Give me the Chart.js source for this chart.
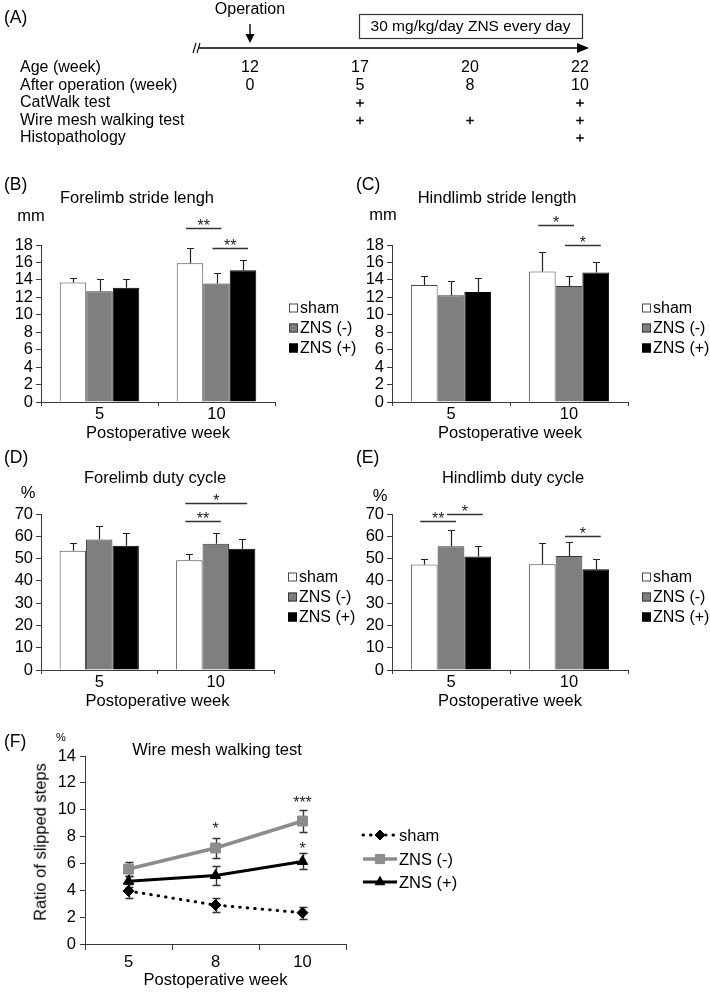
<!DOCTYPE html>
<html><head><meta charset="utf-8">
<script src="https://cdn.jsdelivr.net/npm/chart.js@4.4.1/dist/chart.umd.min.js"></script>
<style>
html,body{margin:0;padding:0;background:#fff;}
body{width:710px;height:992px;position:relative;overflow:hidden;font-family:"Liberation Sans",Arial,sans-serif;color:#000;}
canvas{position:absolute;}
.c{position:absolute;white-space:nowrap;transform:translate(-50%,-50%);font-size:16.5px;line-height:1;}
.p{position:absolute;white-space:nowrap;transform:translateY(-50%);font-size:17.5px;line-height:1;}
.r{position:absolute;white-space:nowrap;transform:translate(-50%,-50%) rotate(-90deg);font-size:16.5px;line-height:1;}
</style></head><body>
<canvas id="cA" width="710" height="160" style="left:0;top:0"></canvas>
<canvas id="cB" width="362" height="277" style="left:0;top:170px"></canvas>
<canvas id="cC" width="360" height="277" style="left:350px;top:170px"></canvas>
<canvas id="cD" width="362" height="275" style="left:0;top:440px"></canvas>
<canvas id="cE" width="360" height="275" style="left:350px;top:440px"></canvas>
<canvas id="cF" width="480" height="267" style="left:0;top:725px"></canvas>

<div class="p" style="left:4px;top:18px">(A)</div>
<div class="p" style="left:4px;top:185px">(B)</div>
<div class="p" style="left:356px;top:185px">(C)</div>
<div class="p" style="left:4px;top:458px">(D)</div>
<div class="p" style="left:356px;top:458px">(E)</div>
<div class="p" style="left:4px;top:742px">(F)</div>

<div class="c" style="left:137px;top:197px">Forelimb stride lengh</div>
<div class="c" style="left:497px;top:197px">Hindlimb stride length</div>
<div class="c" style="left:155px;top:477px">Forelimb duty cycle</div>
<div class="c" style="left:513px;top:477px">Hindlimb duty cycle</div>
<div class="c" style="left:217px;top:749px">Wire mesh walking test</div>

<div class="c" style="left:31px;top:215px">mm</div>
<div class="c" style="left:383px;top:214px">mm</div>
<div class="c" style="left:28px;top:492px">%</div>
<div class="c" style="left:380px;top:495px">%</div>
<div class="c" style="left:61px;top:737px;font-size:11px">%</div>
<div class="r" style="left:40px;top:842px">Ratio of slipped steps</div>

<script>
// ---------------- DATA ----------------
const rowLabels = ['Age (week)', 'After operation (week)', 'CatWalk test', 'Wire mesh walking test', 'Histopathology'];
const ageWeeks = ['12', '17', '20', '22'];
const postOpWeeks = ['0', '5', '8', '10'];
const catWalkAt = ['17', '22'];
const wireMeshAt = ['17', '20', '22'];
const histologyAt = ['22'];
const operationAt = '12';
const treatmentFrom = '17';
const treatmentTo = '22';
const operationLabel = 'Operation';
const treatmentLabel = '30 mg/kg/day ZNS every day';

const seriesNames = ['sham', 'ZNS (-)', 'ZNS (+)'];
const barWeeks = ['5', '10'];
const xTitle = 'Postoperative week';

// (B) Forelimb stride length (mm)
const foreStrideSham = [13.7, 15.9];
const foreStrideShamErr = [0.5, 1.7];
const foreStrideZneg = [12.7, 13.6];
const foreStrideZnegErr = [1.4, 1.2];
const foreStrideZpos = [13.1, 15.1];
const foreStrideZposErr = [1.0, 1.2];
const foreStrideSig = [[1, 0, 1, 20.0, '**'], [1, 1, 2, 17.7, '**']];

// (C) Hindlimb stride length (mm)
const hindStrideSham = [13.4, 14.95];
const hindStrideShamErr = [1.1, 2.25];
const hindStrideZneg = [12.25, 13.3];
const hindStrideZnegErr = [1.65, 1.1];
const hindStrideZpos = [12.6, 14.85];
const hindStrideZposErr = [1.6, 1.25];
const hindStrideSig = [[1, 0, 1, 20.3, '*'], [1, 1, 2, 17.95, '*']];

// (D) Forelimb duty cycle (%)
const foreDutySham = [53.5, 49.3];
const foreDutyShamErr = [3.6, 2.8];
const foreDutyZneg = [58.6, 56.7];
const foreDutyZnegErr = [6.0, 4.8];
const foreDutyZpos = [55.8, 54.4];
const foreDutyZposErr = [5.8, 4.6];
const foreDutySig = [[1, 0, 2, 75.1, '*'], [1, 0, 1, 66.9, '**']];

// (E) Hindlimb duty cycle (%)
const hindDutySham = [47.3, 47.5];
const hindDutyShamErr = [2.4, 9.7];
const hindDutyZneg = [55.5, 51.2];
const hindDutyZnegErr = [7.5, 6.4];
const hindDutyZpos = [50.9, 45.2];
const hindDutyZposErr = [4.9, 4.7];
const hindDutySig = [[0, 0, 1, 66.9, '**'], [0, 1, 2, 70.2, '*'], [1, 1, 2, 60.3, '*']];

// (F) Wire mesh walking test (% slipped steps)
const wireWeeks = ['5', '8', '10'];
const wireSham = [3.95, 2.9, 2.33];
const wireShamErr = [0.5, 0.5, 0.45];
const wireZneg = [5.58, 7.15, 9.16];
const wireZnegErr = [0.5, 0.77, 0.8];
const wireZpos = [4.68, 5.1, 6.15];
const wireZposErr = [0.4, 0.7, 0.6];
const wireSigCats = [1, 2, 2];
const wireSigValues = [8.9, 10.8, 7.4];
const wireSigLabels = ['*', '***', '*'];

// ---------------- STYLE ----------------
const FONT = '"Liberation Sans", Arial, sans-serif';
Chart.defaults.font.family = FONT;
Chart.defaults.font.size = 16.5;
Chart.defaults.color = '#000';
Chart.defaults.animation = false;
const AXIS = '#3a3a3a';
const barFill = ['#ffffff', '#7f7f7f', '#000000'];
const barEdge = ['#4a4a4a', '#3a3a3a', '#000000'];

// ---------------- (A) timeline ----------------
(function () {
  const cv = document.getElementById('cA');
  const crossPts = [];
  catWalkAt.forEach(w => crossPts.push({x: w, y: rowLabels[2]}));
  wireMeshAt.forEach(w => crossPts.push({x: w, y: rowLabels[3]}));
  histologyAt.forEach(w => crossPts.push({x: w, y: rowLabels[4]}));
  const deco = {
    id: 'timelineDeco',
    afterDraw(chart) {
      const ctx = chart.ctx, xs = chart.scales.x, ys = chart.scales.y;
      ctx.save();
      ctx.fillStyle = '#000'; ctx.strokeStyle = '#000';
      ctx.font = '16px ' + FONT;
      ctx.textBaseline = 'middle';
      ctx.textAlign = 'left';
      rowLabels.forEach((r, i) => ctx.fillText(r, 20, ys.getPixelForValue(i)));
      ctx.textAlign = 'center';
      ageWeeks.forEach((w, i) => ctx.fillText(w, xs.getPixelForValue(i), ys.getPixelForValue(0)));
      postOpWeeks.forEach((w, i) => ctx.fillText(w, xs.getPixelForValue(i), ys.getPixelForValue(1)));
      // time axis
      const ty = 48;
      const xEnd = xs.getPixelForValue(ageWeeks.length - 1);
      ctx.lineWidth = 1.6;
      ctx.beginPath(); ctx.moveTo(199, ty); ctx.lineTo(xEnd + 2, ty); ctx.stroke();
      ctx.beginPath(); ctx.moveTo(xEnd + 9, ty); ctx.lineTo(xEnd - 3, ty - 5); ctx.lineTo(xEnd - 3, ty + 5); ctx.closePath(); ctx.fill();
      ctx.lineWidth = 1.1;
      ctx.beginPath(); ctx.moveTo(193, ty + 5); ctx.lineTo(196, ty - 5); ctx.moveTo(197, ty + 5); ctx.lineTo(200, ty - 5); ctx.stroke();
      // operation arrow
      const ox = xs.getPixelForValue(ageWeeks.indexOf(operationAt));
      ctx.fillText(operationLabel, ox, 10);
      ctx.lineWidth = 1.4;
      ctx.beginPath(); ctx.moveTo(ox, 24); ctx.lineTo(ox, 36); ctx.stroke();
      ctx.beginPath(); ctx.moveTo(ox, 43); ctx.lineTo(ox - 4.5, 34); ctx.lineTo(ox + 4.5, 34); ctx.closePath(); ctx.fill();
      // treatment box
      const bx0 = xs.getPixelForValue(ageWeeks.indexOf(treatmentFrom)) - 1;
      const bx1 = xs.getPixelForValue(ageWeeks.indexOf(treatmentTo)) + 2;
      ctx.strokeStyle = '#333'; ctx.lineWidth = 1.2;
      ctx.strokeRect(bx0 + 0.5, 14.5, bx1 - bx0, 24);
      ctx.font = '15.5px ' + FONT;
      ctx.fillText(treatmentLabel, (bx0 + bx1) / 2, 27);
      ctx.restore();
    }
  };
  new Chart(cv, {
    type: 'scatter',
    data: {datasets: [{data: crossPts, pointStyle: 'cross', pointRadius: 3.8, pointBorderWidth: 1.4, borderColor: '#000', backgroundColor: '#000'}]},
    options: {
      responsive: false,
      layout: {padding: {left: 250, right: 130, top: 68, bottom: 22}},
      plugins: {legend: {display: false}, tooltip: {enabled: false}},
      scales: {
        x: {type: 'category', labels: ageWeeks, offset: false, display: false},
        y: {type: 'category', labels: rowLabels, offset: false, display: false}
      }
    },
    plugins: [deco]
  });
})();

// ---------------- bar panels ----------------
function barPanel(id, area, vals, errs, yMax, yStep, sig) {
  const cv = document.getElementById(id);
  const W = cv.width, H = cv.height;
  const deco = {
    id: 'deco',
    afterDatasetsDraw(chart) {
      const ctx = chart.ctx, ys = chart.scales.y, a = chart.chartArea;
      ctx.save();
      // error bars (upper)
      ctx.strokeStyle = '#222'; ctx.lineWidth = 1.2;
      chart.data.datasets.forEach((ds, i) => {
        chart.getDatasetMeta(i).data.forEach((el, j) => {
          const x = Math.round(el.x) + 0.5;
          const y0 = ys.getPixelForValue(ds.data[j]);
          const y1 = Math.round(ys.getPixelForValue(ds.data[j] + errs[i][j])) + 0.5;
          ctx.beginPath();
          ctx.moveTo(x, y0); ctx.lineTo(x, y1);
          ctx.moveTo(x - 3.5, y1); ctx.lineTo(x + 3.5, y1);
          ctx.stroke();
        });
      });
      // significance brackets
      ctx.strokeStyle = '#333'; ctx.lineWidth = 1.3; ctx.fillStyle = '#222';
      ctx.font = '16px ' + FONT; ctx.textAlign = 'center'; ctx.textBaseline = 'alphabetic';
      sig.forEach(([cat, from, to, v, label]) => {
        const xa = chart.getDatasetMeta(from).data[cat].x - 4;
        const xb = chart.getDatasetMeta(to).data[cat].x + 5;
        const yy = Math.round(ys.getPixelForValue(v)) + 0.5;
        ctx.beginPath(); ctx.moveTo(xa, yy); ctx.lineTo(xb, yy); ctx.stroke();
        ctx.fillText(label, (xa + xb) / 2, yy + 2.5);
      });
      // legend
      ctx.textAlign = 'left'; ctx.textBaseline = 'middle'; ctx.font = '16px ' + FONT;
      chart.data.datasets.forEach((ds, i) => {
        const lx = a.right + 14, cy = a.top + 63 + i * 20;
        ctx.fillStyle = ds.backgroundColor; ctx.fillRect(lx, cy - 4.5, 9, 9);
        ctx.strokeStyle = ds.borderColor; ctx.lineWidth = 1; ctx.strokeRect(lx + 0.5, cy - 4, 8, 8);
        ctx.fillStyle = '#000'; ctx.fillText(ds.label, lx + 11, cy + 1);
      });
      ctx.restore();
    }
  };
  new Chart(cv, {
    type: 'bar',
    data: {
      labels: barWeeks,
      datasets: seriesNames.map((n, i) => ({
        label: n, data: vals[i], backgroundColor: barFill[i], borderColor: barEdge[i], borderWidth: 1,
        categoryPercentage: 0.68, barPercentage: 1.0
      }))
    },
    options: {
      responsive: false,
      layout: {padding: {left: 0, top: area.top, right: W - area.right, bottom: 0}},
      plugins: {legend: {display: false}, tooltip: {enabled: false}},
      scales: {
        x: {
          offset: true,
          grid: {offset: true, drawOnChartArea: false, drawTicks: true, tickLength: 4, color: AXIS},
          border: {color: AXIS, width: 1},
          ticks: {padding: 0, color: '#000', font: {size: 16.5, lineHeight: 1}},
          title: {display: true, text: xTitle, color: '#000', font: {size: 16.5}, padding: {top: 0, bottom: 4}},
          afterFit: s => { s.height = H - area.bottom; }
        },
        y: {
          min: 0, max: yMax,
          ticks: {stepSize: yStep, autoSkip: false, padding: 3, color: '#000', font: {size: 16.5, lineHeight: 1}},
          grid: {drawOnChartArea: false, drawTicks: true, tickLength: 5, color: AXIS},
          border: {color: AXIS, width: 1},
          afterFit: s => { s.width = area.left; }
        }
      }
    },
    plugins: [deco]
  });
}

barPanel('cB', {left: 41, right: 275, top: 75, bottom: 232},
  [foreStrideSham, foreStrideZneg, foreStrideZpos], [foreStrideShamErr, foreStrideZnegErr, foreStrideZposErr], 18, 2, foreStrideSig);
barPanel('cC', {left: 42, right: 278, top: 75, bottom: 232},
  [hindStrideSham, hindStrideZneg, hindStrideZpos], [hindStrideShamErr, hindStrideZnegErr, hindStrideZposErr], 18, 2, hindStrideSig);
barPanel('cD', {left: 41, right: 274, top: 74, bottom: 230},
  [foreDutySham, foreDutyZneg, foreDutyZpos], [foreDutyShamErr, foreDutyZnegErr, foreDutyZposErr], 70, 10, foreDutySig);
barPanel('cE', {left: 42, right: 278, top: 74, bottom: 230},
  [hindDutySham, hindDutyZneg, hindDutyZpos], [hindDutyShamErr, hindDutyZnegErr, hindDutyZposErr], 70, 10, hindDutySig);

// ---------------- (F) line panel ----------------
(function () {
  const cv = document.getElementById('cF');
  const W = cv.width, H = cv.height;
  const area = {left: 85, right: 346, top: 31, bottom: 219};
  const errs = [wireShamErr, wireZnegErr, wireZposErr];
  const deco = {
    id: 'decoF',
    beforeDatasetsDraw(chart) {
      const ctx = chart.ctx, ys = chart.scales.y;
      ctx.save(); ctx.strokeStyle = '#333'; ctx.lineWidth = 1.4;
      chart.data.datasets.forEach((ds, i) => {
        chart.getDatasetMeta(i).data.forEach((el, j) => {
          const x = Math.round(el.x) + 0.5;
          const yt = Math.round(ys.getPixelForValue(ds.data[j] + errs[i][j])) + 0.5;
          const yb = Math.round(ys.getPixelForValue(ds.data[j] - errs[i][j])) + 0.5;
          ctx.beginPath();
          ctx.moveTo(x, yt); ctx.lineTo(x, yb);
          ctx.moveTo(x - 4, yt); ctx.lineTo(x + 4, yt);
          ctx.moveTo(x - 4, yb); ctx.lineTo(x + 4, yb);
          ctx.stroke();
        });
      });
      ctx.restore();
    },
    afterDraw(chart) {
      const ctx = chart.ctx, xs = chart.scales.x, ys = chart.scales.y, a = chart.chartArea;
      ctx.save();
      ctx.fillStyle = '#222'; ctx.font = '16px ' + FONT; ctx.textAlign = 'center'; ctx.textBaseline = 'alphabetic';
      wireSigCats.forEach((c, k) => {
        ctx.fillText(wireSigLabels[k], xs.getPixelForValue(c), ys.getPixelForValue(wireSigValues[k]) + 9.5);
      });
      // legend with line + marker samples
      ctx.textAlign = 'left'; ctx.textBaseline = 'middle'; ctx.font = '16.5px ' + FONT;
      const offs = [79, 103, 126];
      chart.data.datasets.forEach((ds, i) => {
        const cy = a.top + offs[i], x0 = 363, x1 = 397;
        ctx.save();
        ctx.strokeStyle = ds.borderColor; ctx.lineWidth = ds.borderWidth;
        ctx.lineCap = ds.borderCapStyle || 'butt';
        ctx.setLineDash(ds.borderDash || []);
        ctx.beginPath(); ctx.moveTo(x0, cy); ctx.lineTo(x1, cy); ctx.stroke();
        ctx.restore();
        ctx.save();
        ctx.fillStyle = ds.pointBackgroundColor; ctx.strokeStyle = ds.pointBorderColor; ctx.lineWidth = 1;
        Chart.helpers.drawPoint(ctx, {pointStyle: ds.pointStyle, radius: ds.pointRadius - 0.5, borderWidth: 1, rotation: 0}, (x0 + x1) / 2, cy);
        ctx.restore();
        ctx.fillStyle = '#000';
        ctx.fillText(ds.label, x1 + 2, cy + 1);
      });
      ctx.restore();
    }
  };
  new Chart(cv, {
    type: 'line',
    data: {
      labels: wireWeeks,
      datasets: [
        {label: seriesNames[0], data: wireSham, borderColor: '#000', backgroundColor: '#000', borderWidth: 3,
          borderDash: [0.5, 7], borderCapStyle: 'round', pointStyle: 'rectRot', pointRadius: 5.5,
          pointBackgroundColor: '#000', pointBorderColor: '#000', pointBorderWidth: 1},
        {label: seriesNames[1], data: wireZneg, borderColor: '#8c8c8c', backgroundColor: '#8c8c8c', borderWidth: 3.5,
          pointStyle: 'rect', pointRadius: 7, pointBackgroundColor: '#8c8c8c', pointBorderColor: '#8c8c8c', pointBorderWidth: 1},
        {label: seriesNames[2], data: wireZpos, borderColor: '#000', backgroundColor: '#000', borderWidth: 3,
          pointStyle: 'triangle', pointRadius: 6, pointBackgroundColor: '#000', pointBorderColor: '#000', pointBorderWidth: 1}
      ]
    },
    options: {
      responsive: false,
      layout: {padding: {left: 0, top: area.top, right: W - area.right, bottom: 0}},
      plugins: {legend: {display: false}, tooltip: {enabled: false}},
      scales: {
        x: {
          offset: true,
          grid: {offset: true, drawOnChartArea: false, drawTicks: true, tickLength: 6, color: AXIS},
          border: {color: AXIS, width: 1},
          ticks: {padding: 4, color: '#000', font: {size: 16.5, lineHeight: 1}},
          title: {display: true, text: xTitle, color: '#000', font: {size: 16.5}, padding: {top: 0, bottom: 2}},
          afterFit: s => { s.height = H - area.bottom; }
        },
        y: {
          min: 0, max: 14,
          ticks: {stepSize: 2, autoSkip: false, padding: 4, color: '#000', font: {size: 16.5, lineHeight: 1}},
          grid: {drawOnChartArea: false, drawTicks: true, tickLength: 5, color: AXIS},
          border: {color: AXIS, width: 1},
          afterFit: s => { s.width = area.left; }
        }
      }
    },
    plugins: [deco]
  });
})();
</script>
</body></html>
